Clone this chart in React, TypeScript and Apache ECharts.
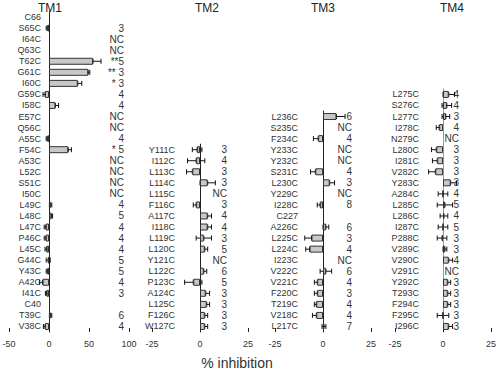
import React, { useEffect, useRef } from "react";
import * as echarts from "echarts";

// ---- data (top to bottom in each panel) ----
const tm1Cats = ["C66", "S65C", "I64C", "Q63C", "T62C", "G61C", "I60C", "G59C", "I58C", "E57C", "Q56C", "A55C", "F54C", "A53C", "L52C", "S51C", "I50C", "L49C", "L48C", "L47C", "P46C", "L45C", "G44C", "Y43C", "A42C", "I41C", "C40", "T39C", "V38C"];
const tm1Mean = [null, -2, null, null, 55, 49, 36, -5, 8, null, null, -2, 24, null, null, null, null, 2, 3, -4, -4, -3, -1, -2, -8, -3, null, 2, -5];
const tm1Err = [null, 1.5, null, null, 10, 2, 5, 2.5, 4, null, null, 1.5, 4, null, null, null, null, 1.5, 1.5, 2, 2, 2, 2.5, 1.5, 4, 1.5, null, 1.5, 2];
const tm1N = ["", "3", "NC", "NC", "**5", "** 3", "* 3", "4", "4", "NC", "NC", "4", "* 5", "NC", "NC", "NC", "NC", "4", "5", "4", "4", "4", "5", "5", "4", "3", "", "6", "4"];

const tm2Cats = ["Y111C", "I112C", "L113C", "L114C", "L115C", "F116C", "A117C", "I118C", "L119C", "L120C", "Y121C", "L122C", "P123C", "A124C", "L125C", "F126C", "W127C"];
const tm2Mean = [-1.5, -2, -4, 4, null, -2, 4, 4, 2, 2.5, null, 2, -3.5, 3, 3.5, 2.5, 2.5];
const tm2Err = [2.5, 4.5, 3, 4, null, 1.5, 2, 2, 4, 1.5, null, 1.5, 4.5, 2, 1.5, 1.5, 1.5];
const tm2N = ["3", "4", "3", "3", "NC", "3", "4", "4", "3", "5", "NC", "6", "5", "3", "3", "3", "3"];

const tm3Cats = ["L236C", "S235C", "F234C", "Y233C", "Y232C", "S231C", "L230C", "Y229C", "I228C", "C227", "A226C", "L225C", "L224C", "I223C", "V222C", "V221C", "F220C", "T219C", "V218C", "L217C"];
const tm3Mean = [7, null, -2.5, null, null, -4, 3.5, null, -1.5, null, 1.5, -6, -7, null, 1.5, -3, -3, -3.5, -3.5, 0.5];
const tm3Err = [4.5, null, 2.5, null, null, 2.5, 2.5, null, 1.5, null, 1.5, 3.5, 2, null, 3, 1.5, 1.5, 1, 2, 1];
const tm3N = ["6", "NC", "4", "NC", "NC", "4", "3", "NC", "8", "", "6", "3", "4", "NC", "6", "4", "3", "4", "4", "7"];

const tm4Cats = ["L275C", "S276C", "L277C", "I278C", "N279C", "L280C", "I281C", "V282C", "Y283C", "A284C", "L285C", "L286C", "I287C", "P288C", "V289C", "V290C", "V291C", "Y292C", "T293C", "F294C", "F295C", "I296C"];
const tm4Mean = [3, 2, 1.5, -2, null, -3.5, -3, -4, 4, 0, 1, 0.5, 0, -0.5, 1, 3, null, 2.5, 2.5, 2.5, 0, 3];
const tm4Err = [3, 2.5, 2, 1.5, null, 2.5, 2.5, 3.5, 3, 2.5, 4, 2, 2.5, 2.5, 1, 2, null, 1.5, 1.5, 1.5, 3, 2];
const tm4N = ["4", "4", "3", "4", "NC", "3", "3", "3", "3", "4", "5", "4", "5", "3", "3", "4", "NC", "3", "3", "3", "3", "3"];

const panelTitles = ["TM1", "TM2", "TM3", "TM4"];
const axisTitle = "% inhibition";
const xRanges = [
  { min: -50, max: 100, interval: 50 },
  { min: -25, max: 25, interval: 25 },
  { min: -25, max: 25, interval: 25 },
  { min: -25, max: 25, interval: 25 },
];

const FONT = "'Liberation Sans', Arial, Helvetica, sans-serif";

export default function App() {
  const ref = useRef<HTMLDivElement>(null);
  useEffect(() => {
    if (!ref.current) return;
    const chart = echarts.init(ref.current, null, { renderer: "svg" });
    const panels = [
      { cats: tm1Cats, mean: tm1Mean, err: tm1Err, n: tm1N },
      { cats: tm2Cats, mean: tm2Mean, err: tm2Err, n: tm2N },
      { cats: tm3Cats, mean: tm3Mean, err: tm3Err, n: tm3N },
      { cats: tm4Cats, mean: tm4Mean, err: tm4Err, n: tm4N },
    ];
    const bottomY = 332;
    const band = 11.05;
    const layout = [
      { left: 9, width: 120, title: 50, nMargin: -5, labMargin: 8 },
      { left: 152, width: 96, title: 207, nMargin: -21, labMargin: 25 },
      { left: 275, width: 96, title: 323, nMargin: -19, labMargin: 25 },
      { left: 395, width: 96, title: 452, nMargin: -32, labMargin: 24 },
    ];
    const grids: any[] = [];
    const xAxes: any[] = [];
    const yAxes: any[] = [];
    const yAxes2: any[] = [];
    const series: any[] = [];
    panels.forEach((p, i) => {
      const L = layout[i];
      const h = p.cats.length * band;
      const r = xRanges[i];
      const zeroOffset = ((0 - r.min) / (r.max - r.min)) * L.width;
      grids.push({ left: L.left, width: L.width, top: bottomY - h, height: h, containLabel: false, outerBoundsMode: "none" });
      xAxes.push({
        type: "value", gridIndex: i, ...r,
        axisLine: { onZero: false, lineStyle: { color: i === 3 ? "#444" : "#222", width: i === 3 ? 1.5 : 1 } },
        axisTick: { show: true, inside: true, length: 4, lineStyle: { color: "#222" } },
        axisLabel: { fontSize: 9, color: "#333", fontFamily: FONT, margin: 7 },
        splitLine: { show: false },
      });
      yAxes.push({
        type: "category", gridIndex: i, inverse: true, data: p.cats, position: "left",
        offset: -zeroOffset,
        axisLine: { onZero: false, lineStyle: { color: i === 3 ? "#999" : "#222", width: 1 } },
        axisTick: { show: false },
        axisLabel: { fontSize: 9, color: "#333", fontFamily: FONT, margin: L.labMargin, interval: 0 },
      });
      yAxes2.push({
        type: "category", gridIndex: i, inverse: true, position: "right",
        data: p.n.map((_, k) => "k" + k),
        axisLine: { show: false, onZero: false },
        axisTick: { show: false },
        axisLabel: {
          fontSize: 10, color: "#333", fontFamily: FONT, margin: L.nMargin, align: "right", interval: 0,
          formatter: (_v: string, idx: number) => p.n[idx],
        },
      });
    });
    const allY = [...yAxes, ...yAxes2];
    panels.forEach((p, i) => {
      series.push({
        type: "bar", xAxisIndex: i, yAxisIndex: i, barWidth: 7,
        data: p.mean.map((m) => (m == null ? "-" : m)),
        itemStyle: { color: "#c8c8c8", borderColor: "#333", borderWidth: 1 },
        silent: true,
      });
      const ed: any[] = [];
      p.mean.forEach((m, k) => {
        if (m != null && p.err[k] != null) ed.push([m, k, p.err[k] as number]);
      });
      series.push({
        type: "custom", xAxisIndex: i, yAxisIndex: i, data: ed,
        encode: { x: 0, y: 1 },
        renderItem: (_params: any, api: any) => {
          const m = api.value(0);
          const k = api.value(1);
          const e = api.value(2);
          const c = api.coord([m, k]);
          const lo = api.coord([m - e, k]);
          const hi = api.coord([m + e, k]);
          const s = { stroke: "#111", lineWidth: 1 };
          const hh = 2.5;
          return {
            type: "group",
            children: [
              { type: "line", shape: { x1: lo[0], y1: c[1], x2: hi[0], y2: c[1] }, style: s },
              { type: "line", shape: { x1: lo[0], y1: c[1] - hh, x2: lo[0], y2: c[1] + hh }, style: s },
              { type: "line", shape: { x1: hi[0], y1: c[1] - hh, x2: hi[0], y2: c[1] + hh }, style: s },
              { type: "line", shape: { x1: c[0], y1: c[1] - hh, x2: c[0], y2: c[1] + hh }, style: s },
            ],
          };
        },
        silent: true,
      });
    });
    const graphics: any[] = panelTitles.map((t, i) => ({
      type: "text", x: layout[i].title, y: 8,
      style: { text: t, fontSize: 12, fill: "#222", fontFamily: FONT, align: "center", textAlign: "center", verticalAlign: "middle", textVerticalAlign: "middle" },
    }));
    graphics.push({
      type: "text", x: 237, y: 363,
      style: { text: axisTitle, fontSize: 14, fill: "#333", fontFamily: FONT, align: "center", textAlign: "center", verticalAlign: "middle", textVerticalAlign: "middle" },
    });
    chart.setOption({
      animation: false,
      backgroundColor: "#fff",
      grid: grids,
      xAxis: xAxes,
      yAxis: allY,
      series,
      graphic: graphics,
    });
    return () => chart.dispose();
  }, []);
  return <div ref={ref} style={{ width: 500, height: 375, position: "absolute", left: 0, top: 0 }} />;
}
